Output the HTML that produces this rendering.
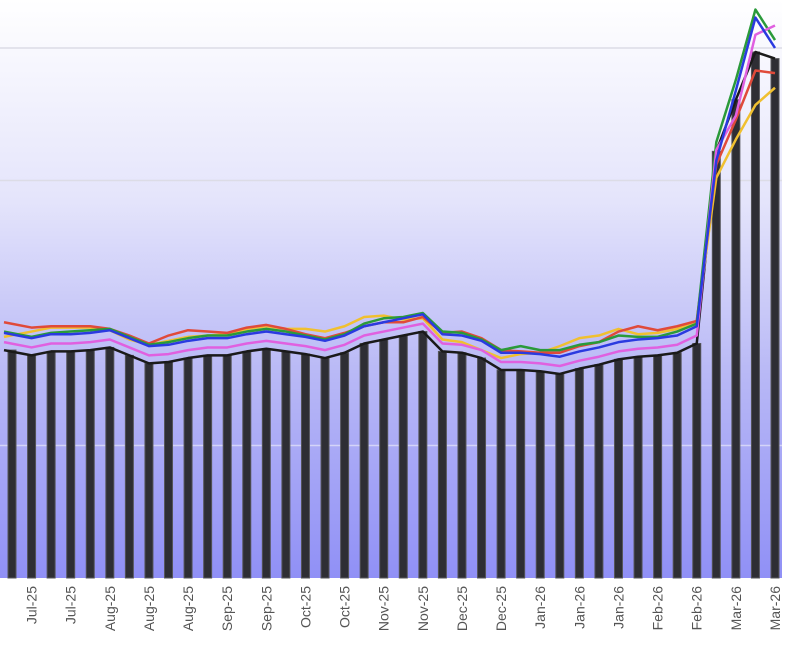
<!DOCTYPE html>
<html><head><meta charset="utf-8"><style>
html,body{margin:0;padding:0;background:#fff;}
svg{display:block;font-family:"Liberation Sans",sans-serif;}
</style></head><body>
<svg id="chart" width="800" height="658" viewBox="0 0 800 658" xmlns="http://www.w3.org/2000/svg">
<defs>
<linearGradient id="bg" x1="0" y1="0" x2="0" y2="1">
<stop offset="0" stop-color="#ffffff"/>
<stop offset="0.35" stop-color="#e4e4fb"/>
<stop offset="0.65" stop-color="#b8b8f6"/>
<stop offset="1" stop-color="#9090f6"/>
</linearGradient>
</defs>
<rect x="0" y="0" width="782" height="578" fill="url(#bg)"/>
<g id="grid"></g>
<g id="bars"></g>
<g id="lines"></g>
<g id="xlabels"></g>
</svg>
<script>
const categories = ["Jun-25","Jul-25","Jul-25","Jul-25","Jul-25","Aug-25","Aug-25","Aug-25","Aug-25","Aug-25","Aug-25","Sep-25","Sep-25","Sep-25","Sep-25","Oct-25","Oct-25","Oct-25","Oct-25","Nov-25","Nov-25","Nov-25","Nov-25","Dec-25","Dec-25","Dec-25","Dec-25","Jan-26","Jan-26","Jan-26","Jan-26","Jan-26","Jan-26","Feb-26","Feb-26","Feb-26","Feb-26","Mar-26","Mar-26","Mar-26"];
const labelCats = ["Jul-25","Jul-25","Aug-25","Aug-25","Aug-25","Sep-25","Sep-25","Oct-25","Oct-25","Nov-25","Nov-25","Dec-25","Dec-25","Jan-26","Jan-26","Jan-26","Feb-26","Feb-26","Mar-26","Mar-26"];
const gridValues = [100,300,400];
const barValues = [172,168,171,171,172,174,168,162,163,166,168,168,171,173,171,169,166,170,177,180,183,186,171,170,166,157,157,156,154,158,161,165,167,168,170,177,322,361,397,392];
const blackLine = [172,168,171,171,172,174,168,162,163,166,168,168,171,173,171,169,166,170,177,180,183,186,171,170,166,157,157,156,154,158,161,165,167,168,170,177,322,361,397,392];
const pinkLine = [178,174,177,177,178,180,174,168,169,172,174,174,177,179,177,175,172,176,183,186,189,192,177,176,172,163,163,162,160,164,167,171,173,174,176,183,323,349,410,417];
const blueLine = [185,181,184,184,185,187,181,175,176,179,181,181,184,186,184,182,179,183,190,193,196,199,184,183,179,170,170,169,167,171,174,178,180,181,183,190,315,368,423,400];
const greenLine = [186,182,185,186,187,188,182,176,178,181,183,183,186,188,186,183,180,184,192,196,197,200,186,185,180,172,175,172,172,176,178,183,182,182,186,192,329,376,429,406];
const redLine = [193,189,190,190,190,188,183,177,183,187,186,185,189,191,188,184,181,185,190,193,193,197,185,186,181,172,171,170,170,175,178,186,190,187,190,194,312,346,383,381];
const yellowLine = [182,186,189,189,189,187,180,176,179,182,183,184,188,190,188,188,186,190,197,198,195,196,180,178,172,166,169,170,175,181,183,188,184,185,188,194,302,331,357,370];

const NS="http://www.w3.org/2000/svg";
const x0=12, x1=775, base=578, k=1.325;
function xs(i){return x0+(x1-x0)*i/(categories.length-1);}
function ys(v){return base-v*k;}

const grid=document.getElementById('grid');
gridValues.forEach(v=>{
  const l=document.createElementNS(NS,'line');
  
  
  l.setAttribute('x1',0);l.setAttribute('x2',782);
  l.setAttribute('y1',ys(v));l.setAttribute('y2',ys(v));
  l.setAttribute('stroke',v===100?'#d4d4f8':'#dcdce6');l.setAttribute('stroke-width',1.5);
  grid.appendChild(l);
});

const bars=document.getElementById('bars');
barValues.forEach((v,i)=>{
  const r=document.createElementNS(NS,'rect');
  
  
  r.setAttribute('x',xs(i)-4);r.setAttribute('width',8);
  r.setAttribute('y',ys(v));r.setAttribute('height',base-ys(v));
  r.setAttribute('fill','#2e2e34');r.setAttribute('stroke','#55555a');r.setAttribute('stroke-width',1);
  bars.appendChild(r);
});

const series=[["black-line",blackLine,"#1a1a1a"],["yellow-line",yellowLine,"#f0c030"],["red-line",redLine,"#e04a3a"],["green-line",greenLine,"#2a9a3a"],["pink-line",pinkLine,"#e060e0"],["blue-line",blueLine,"#2a3ae0"]];
const lines=document.getElementById('lines');
series.forEach(s=>{
  const p=document.createElementNS(NS,'polyline');
  
  
  p.setAttribute('points',s[1].map((v,i)=>(i===0?4:xs(i))+','+ys(v)).join(' '));
  p.setAttribute('fill','none');p.setAttribute('stroke',s[2]);p.setAttribute('stroke-width',2.5);
  p.setAttribute('stroke-linejoin','round');
  lines.appendChild(p);
});

const xl=document.getElementById('xlabels');
labelCats.forEach((c,j)=>{
  const i=j*2+1;
  const t=document.createElementNS(NS,'text');
  
  
  const x=xs(i)+5, y=586;
  t.setAttribute('x',x);t.setAttribute('y',y);
  t.setAttribute('transform','rotate(-90 '+x+' '+y+')');
  t.setAttribute('text-anchor','end');
  t.setAttribute('font-size','14');t.setAttribute('fill','#555');
  t.textContent=c;
  xl.appendChild(t);
});
</script>
</body></html>
